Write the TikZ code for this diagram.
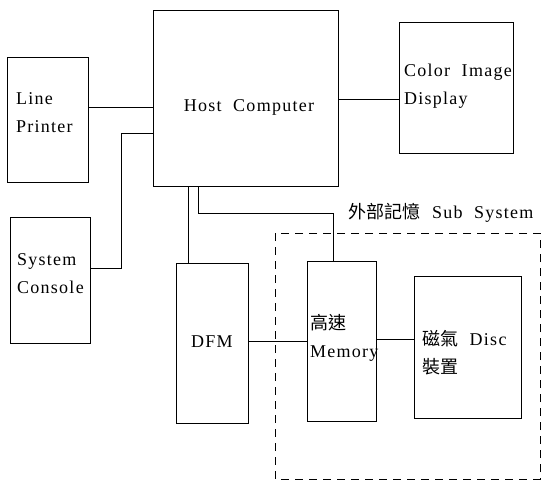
\documentclass[tikz,border=0pt]{standalone}
\usepackage{fontspec}
\setmainfont[LetterSpace=7]{Liberation Serif}
\newfontfamily\cjk{Noto Sans CJK TC}
\begin{document}
\begin{tikzpicture}[x=1pt,y=-1pt,
  blk/.style={draw,line width=1pt,minimum width=#1,inner sep=0pt,anchor=north west},
  txt/.style={font=\fontsize{18}{28}\selectfont,inner sep=0pt,align=left},
  wire/.style={line width=1pt},
  grp/.style={draw,line width=1pt,dash pattern=on 8pt off 6pt}]
\useasboundingbox (0,0) rectangle (542,482);
% boxes
\node[blk=185pt,minimum height=176pt] (host) at (153,10) {};
\node[blk=81pt,minimum height=125pt] (lp) at (7,57) {};
\node[blk=114pt,minimum height=131pt] (cid) at (399,22) {};
\node[blk=80pt,minimum height=126pt] (sc) at (10,217) {};
\node[blk=72pt,minimum height=160pt] (dfm) at (176,263) {};
\node[blk=69pt,minimum height=160pt] (mem) at (307,261) {};
\node[blk=107pt,minimum height=142pt] (disc) at (414,276) {};
% group
\coordinate (g1) at (275,233);
\coordinate (g2) at (540,479);
\draw[grp] (g1) rectangle (g2);
\node[txt,anchor=center] (glabel) at (441,213) {{\cjk 外部記憶}\ \ Sub\ \ System};
% texts
\node[txt,anchor=center] (hostt) at (249,107) {Host\ \ Computer};
\node[txt,anchor=west] (lpt) at (16,113) {Line\\Printer};
\node[txt,anchor=west] (cidt) at (404,86) {Color\ \ Image\\Display};
\node[txt,anchor=west] (sct) at (17,274) {System\\Console};
\node[txt,anchor=center] (dfmt) at (212,342) {DFM};
\node[txt,anchor=west] (memt) at (310,338) {{\cjk 高速}\\Memory};
\node[txt,anchor=west] (disct) at (422,353) {{\cjk 磁氣}\ \ Disc\\{\cjk 裝置}};
% wires
\draw[wire] (lp.east |- 0,107) -- (host.west |- 0,107);
\draw[wire] (host.east |- 0,99) -- (cid.west |- 0,99);
\draw[wire] (sc.east |- 0,268) -| (121,133) -- (host.west |- 0,133);
\draw[wire] (host.south -| 188,0) -- (dfm.north -| 188,0);
\draw[wire] (host.south -| 198,0) |- (333,213) -- (mem.north -| 333,0);
\draw[wire] (dfm.east |- 0,341) -- (mem.west |- 0,341);
\draw[wire] (mem.east |- 0,339) -- (disc.west |- 0,339);
\end{tikzpicture}
\end{document}
